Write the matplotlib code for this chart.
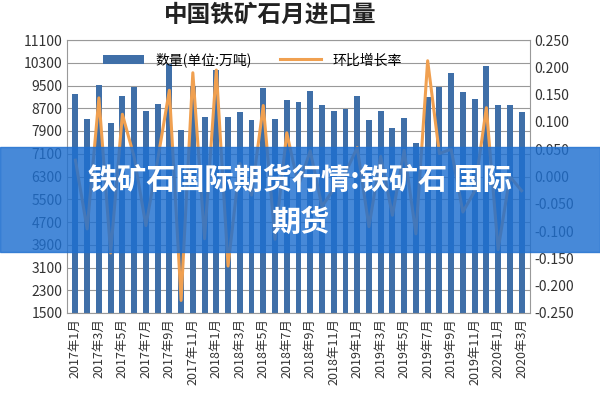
import matplotlib
matplotlib.use("Agg")
import matplotlib.pyplot as plt
import numpy as np

plt.rcParams['font.family'] = ['Noto Sans CJK SC', 'DejaVu Sans']

months = [f"{y}年{m}月" for y in (2017, 2018, 2019) for m in range(1, 13)] + ["2020年1月", "2020年2月", "2020年3月"]
volume = [9200, 8320, 9520, 8190, 9120, 9450, 8600, 8860, 10260, 7930, 9480, 8400,
          10050, 8400, 8580, 8290, 9400, 8320, 8990, 8910, 9320, 8810, 8600, 8670,
          9130, 8290, 8600, 7990, 8370, 7490, 9080, 9460, 9930, 9280, 9030, 10170,
          8810, 8810, 8580]
growth = [0.03, -0.096, 0.144, -0.14, 0.114, 0.036, -0.09, 0.03, 0.158, -0.227, 0.19, -0.114,
          0.195, -0.164, 0.024, -0.034, 0.13, -0.115, 0.08, -0.017, 0.047, -0.055, -0.023, 0.007,
          0.053, -0.092, 0.037, -0.071, 0.048, -0.105, 0.212, 0.042, 0.05, -0.065, -0.027, 0.126,
          -0.134, 0.0, -0.026]
left_ticks = list(range(1500, 11101, 800))
right_ticks = [-0.25, -0.2, -0.15, -0.1, -0.05, 0.0, 0.05, 0.1, 0.15, 0.2, 0.25]

fig = plt.figure(figsize=(6, 4), dpi=100)
ax = fig.add_axes([0.112, 0.2175, 0.771, 0.6825])
x = np.arange(len(months))
bars = ax.bar(x, volume, width=0.5, color='#3f6fa8', label='数量(单位:万吨)', zorder=2)
ax.set_ylim(1500, 11100)
ax.set_yticks(left_ticks)
ax.set_xlim(-0.7, len(months) - 0.3)
ax.set_xticks(x[::2])
ax.set_xticklabels(months[::2], rotation=90, fontsize=9, color='#333333')
ax.tick_params(axis='y', labelsize=10, colors='#333333', length=0)
ax.tick_params(axis='x', length=0)
ax.grid(axis='y', color='#999999', linewidth=0.8, zorder=0)
for s in ax.spines.values():
    s.set_color('#999999')

ax2 = ax.twinx()
line, = ax2.plot(x, growth, color='#f0a050', linewidth=2.2, label='环比增长率', zorder=3)
ax2.set_ylim(-0.25, 0.25)
ax2.set_yticks(right_ticks)
ax2.set_yticklabels([f"{v:.3f}" for v in right_ticks])
ax2.tick_params(axis='y', labelsize=10, colors='#333333', length=0)
for s in ax2.spines.values():
    s.set_visible(False)

leg = ax.legend([bars, line], ['数量(单位:万吨)', '环比增长率'], loc='upper center', ncol=2,
                bbox_to_anchor=(0.4, 1.0), fontsize=10, frameon=False, handlelength=3)
leg.set_zorder(10)

fig.text(0.45, 0.962, '中国铁矿石月进口量', ha='center', va='center', fontsize=17, fontweight='bold', color='#222222')

# overlay banner
fig.patches.append(plt.Rectangle((0, 0.37), 1, 0.262, transform=fig.transFigure,
                                 color='#1e6fd0', alpha=0.82, zorder=20))
fig.text(0.5, 0.55, '铁矿石国际期货行情:铁矿石 国际', ha='center', va='center', fontsize=21,
         fontweight='bold', color='white', zorder=21)
fig.text(0.5, 0.445, '期货', ha='center', va='center', fontsize=21,
         fontweight='bold', color='white', zorder=21)

fig.savefig('out.png', dpi=100)
